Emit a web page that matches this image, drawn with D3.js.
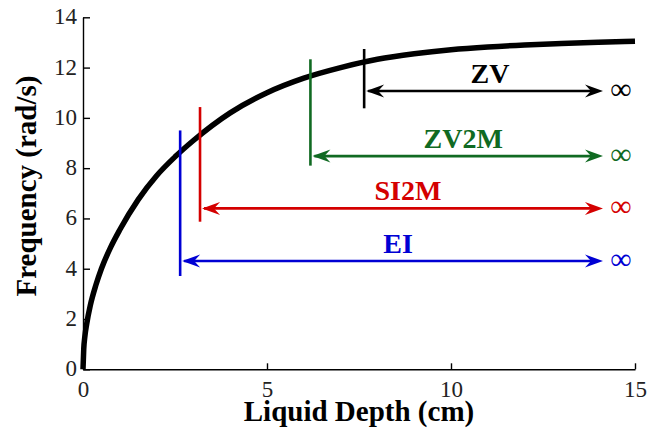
<!DOCTYPE html>
<html>
<head>
<meta charset="utf-8">
<script src="https://cdn.jsdelivr.net/npm/d3@7/dist/d3.min.js"></script>
<style>
  html, body { margin: 0; padding: 0; background: #fff; }
  svg { display: block; }
  text { font-family: "Liberation Serif", "Times New Roman", Times, serif; }
</style>
</head>
<body>
<svg id="chart" width="649" height="438"></svg>
<script>
// Sloshing frequency vs. liquid depth
const depth = [0, 0.02, 0.05, 0.1, 0.2, 0.35, 0.5, 0.75, 1, 1.5, 2, 2.5, 3, 4, 5, 6, 7, 8, 9, 10, 11, 12, 13, 14, 15];
const frequency = [0, 0.8, 1.3, 1.8, 2.55, 3.35, 4.0, 4.85, 5.55, 6.75, 7.7, 8.45, 9.1, 10.2, 11.0, 11.58, 12.0, 12.33, 12.55, 12.71, 12.82, 12.9, 12.96, 13.01, 13.05];

// Validity ranges: each starts at a minimum depth and extends to infinity
const rangeNames = ["ZV", "ZV2M", "SI2M", "EI"];
const rangeColors = ["#000000", "#106a22", "#d40000", "#0000d4"];
const rangeStart = [7.64, 6.18, 3.18, 2.64];      // minimum depth (cm)
const rangeEnd = [14.13, 14.13, 14.13, 14.13];    // arrow tip before the infinity sign
const markerTop = [12.74, 12.33, 10.43, 9.5];     // vertical marker extent (rad/s)
const markerBottom = [10.38, 8.1, 5.87, 3.71];
const arrowLevel = [11.07, 8.48, 6.4, 4.31];

const xTicks = [0, 5, 10, 15];
const yTicks = [0, 2, 4, 6, 8, 10, 12, 14];

const svg = d3.select("#chart");
const x = d3.scaleLinear().domain([0, 15]).range([83, 635]);
const y = d3.scaleLinear().domain([0, 14]).range([369.3, 17.3]);

// Axes: left and bottom only, ticks pointing inward
const xAxis = svg.append("g")
  .attr("transform", `translate(0,${y(0)})`)
  .call(d3.axisBottom(x).tickValues(xTicks).tickSizeInner(-6).tickSizeOuter(0).tickFormat(d3.format("d")));
const yAxis = svg.append("g")
  .attr("transform", `translate(${x(0)},0)`)
  .call(d3.axisLeft(y).tickValues(yTicks).tickSizeInner(-7).tickSizeOuter(0).tickFormat(d3.format("d")));

[xAxis, yAxis].forEach(g => {
  g.select(".domain").attr("stroke", "#000").attr("stroke-width", 1.4);
  g.selectAll(".tick line").attr("stroke", "#000").attr("stroke-width", 1.4);
  g.selectAll(".tick text")
    .attr("font-family", "'Liberation Serif', 'Times New Roman', serif")
    .attr("font-size", 23).attr("fill", "#222");
});
xAxis.selectAll(".tick text").attr("y", 27.4).attr("dy", null).attr("text-anchor", "middle");
yAxis.selectAll(".tick text").attr("x", -6).attr("dy", null).attr("y", 6.5).attr("text-anchor", "end");

// Axis titles
svg.append("text")
  .attr("x", (x(0) + x(15)) / 2).attr("y", 421)
  .attr("text-anchor", "middle").attr("font-weight", "bold").attr("font-size", 29)
  .text("Liquid Depth (cm)");
svg.append("text")
  .attr("transform", "translate(36,186) rotate(-90)")
  .attr("text-anchor", "middle").attr("font-weight", "bold").attr("font-size", 29)
  .text("Frequency (rad/s)");

// Frequency curve
const line = d3.line()
  .x((d, i) => x(depth[i]))
  .y(d => y(d))
  .curve(d3.curveMonotoneX);
svg.append("path")
  .datum(frequency)
  .attr("d", line)
  .attr("fill", "none").attr("stroke", "#000").attr("stroke-width", 5.5);

// Barbed arrowhead with its tip at the origin, pointing right
const headPath = "M0,0 L-18,-6.5 L-12,0 L-18,6.5 Z";

const ranges = rangeNames.map((name, i) => ({
  name, color: rangeColors[i], start: rangeStart[i], end: rangeEnd[i],
  top: markerTop[i], bottom: markerBottom[i], level: arrowLevel[i]
}));

const g = svg.selectAll("g.range").data(ranges).join("g").attr("class", "range");

g.append("line")
  .attr("x1", d => x(d.start)).attr("x2", d => x(d.start))
  .attr("y1", d => y(d.top)).attr("y2", d => y(d.bottom))
  .attr("stroke", d => d.color).attr("stroke-width", 2.6);

g.append("line")
  .attr("x1", d => x(d.start) + 4).attr("x2", d => x(d.end) - 6)
  .attr("y1", d => y(d.level)).attr("y2", d => y(d.level))
  .attr("stroke", d => d.color).attr("stroke-width", 2.6);

g.append("path")
  .attr("d", headPath)
  .attr("transform", d => `translate(${x(d.end)},${y(d.level)})`)
  .attr("fill", d => d.color);
g.append("path")
  .attr("d", headPath)
  .attr("transform", d => `translate(${x(d.start) + 2},${y(d.level)}) scale(-1,1)`)
  .attr("fill", d => d.color);

g.append("text")
  .attr("x", 621).attr("y", d => y(d.level) + 8)
  .attr("text-anchor", "middle").attr("font-size", 30)
  .attr("fill", d => d.color)
  .text("∞");

g.append("text")
  .attr("x", d => (x(d.start) + 616) / 2).attr("y", d => y(d.level) - 8)
  .attr("text-anchor", "middle").attr("font-weight", "bold").attr("font-size", 28)
  .attr("fill", d => d.color)
  .text(d => d.name);
</script>
</body>
</html>
